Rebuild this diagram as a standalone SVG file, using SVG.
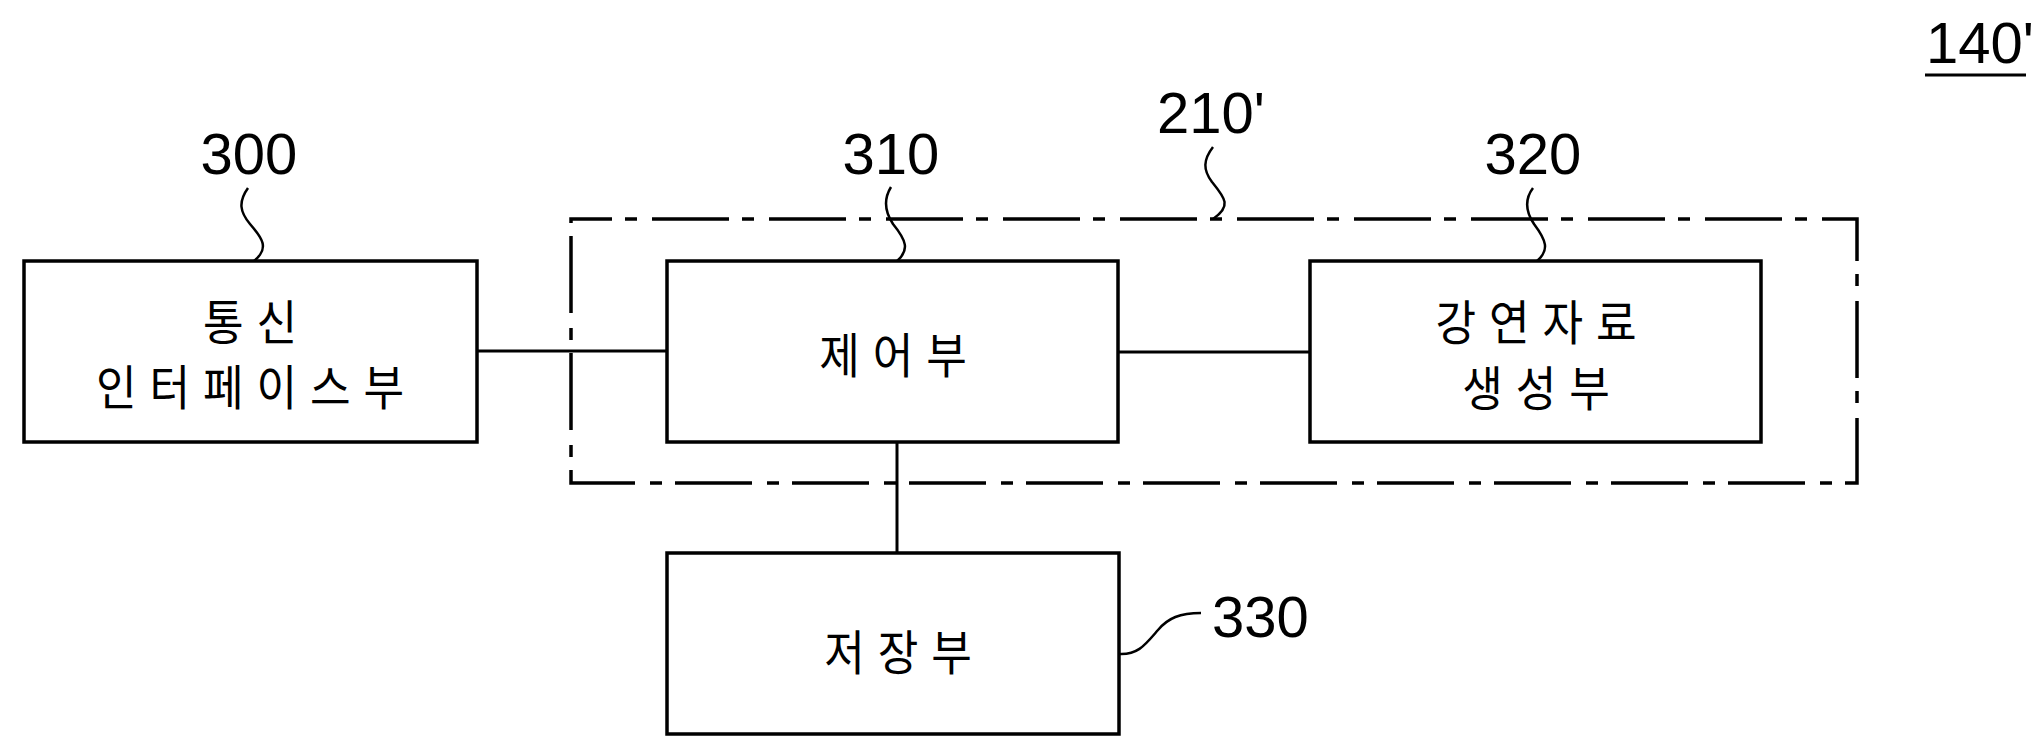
<svg xmlns="http://www.w3.org/2000/svg" width="2041" height="756" viewBox="0 0 2041 756">
<style>
.box{fill:#fff;stroke:#000;stroke-width:3.5}
.grp{fill:none;stroke:#000;stroke-width:3.5;stroke-dasharray:77 13 12 15;stroke-dashoffset:36}
.con{fill:none;stroke:#000;stroke-width:3}
.lead{fill:none;stroke:#000;stroke-width:2.5}
.kr{font-family:"Noto Sans CJK KR","Noto Sans",sans-serif;font-size:48px;letter-spacing:14px;text-anchor:middle;fill:#000}
.num{font-family:"Liberation Sans",Arial,sans-serif;font-size:58px;fill:#000}
</style>
<rect width="2041" height="756" fill="#fff"/>
<g id="group-210">
<rect class="grp" x="571" y="219" width="1286" height="264"/>
<path class="lead" d="M1213,147 C1203,160 1203,170 1212,182 C1225,198 1232,206 1213,219"/>
<text class="num" x="1157" y="133">210'</text>
</g>
<g id="connectors">
<path class="con" d="M477,351 H667"/>
<path class="con" d="M1118,352 H1310"/>
<path class="con" d="M897,442 V553"/>
</g>
<g id="node-300">
<rect class="box" x="24" y="261" width="453" height="181"/>
<text class="kr" transform="translate(250,340) scale(0.92,1)" x="7" y="0">통신</text>
<text class="kr" transform="translate(250,405) scale(0.92,1)" x="7" y="0">인터페이스부</text>
<path class="lead" d="M248,188 C238,202 240,212 250,224 C262,238 270,248 254,261"/>
<text class="num" x="249" y="174" text-anchor="middle">300</text>
</g>
<g id="node-310">
<rect class="box" x="667" y="261" width="451" height="181"/>
<text class="kr" transform="translate(893,373) scale(0.92,1)" x="7" y="0">제어부</text>
<path class="lead" d="M891,187 C883,200 885,212 893,224 C906,240 910,250 897,261"/>
<text class="num" x="891" y="174" text-anchor="middle">310</text>
</g>
<g id="node-320">
<rect class="box" x="1310" y="261" width="451" height="181"/>
<text class="kr" transform="translate(1536,340) scale(0.92,1)" x="7" y="0">강연자료</text>
<text class="kr" transform="translate(1536,406) scale(0.92,1)" x="7" y="0">생성부</text>
<path class="lead" d="M1533,188 C1524,200 1526,212 1534,224 C1546,240 1550,250 1537,261"/>
<text class="num" x="1533" y="174" text-anchor="middle">320</text>
</g>
<g id="node-330">
<rect class="box" x="667" y="553" width="452" height="181"/>
<text class="kr" transform="translate(898,670) scale(0.92,1)" x="7" y="0">저장부</text>
<path class="lead" d="M1119,654 C1138,655 1145,645 1158,630 C1168,618 1180,613 1201,613"/>
<text class="num" x="1212" y="637">330</text>
</g>
<g id="label-140">
<text class="num" x="1926" y="63">140'</text>
<path d="M1925,75 H2026" stroke="#000" stroke-width="3"/>
</g>
</svg>
